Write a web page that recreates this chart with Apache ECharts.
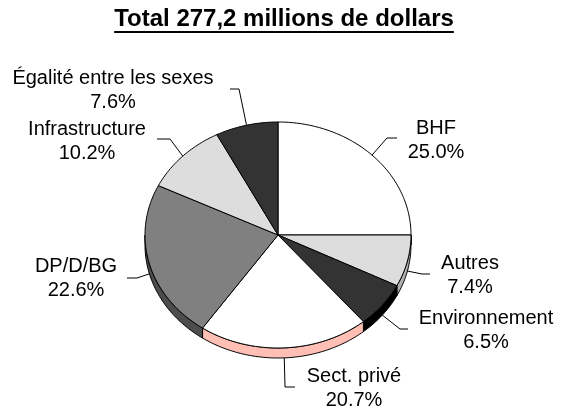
<!DOCTYPE html>
<html>
<head>
<meta charset="utf-8">
<script src="https://cdn.jsdelivr.net/npm/echarts@6/dist/echarts.min.js"></script>
<style>
html,body{margin:0;padding:0;background:#fff;}
#chart{width:564px;height:411px;}
</style>
</head>
<body>
<div id="chart"></div>
<script>
// ---- data ----
const titleText = 'Total 277,2 millions de dollars';
const categories = ['BHF', 'Autres', 'Environnement', 'Sect. privé', 'DP/D/BG', 'Infrastructure', 'Égalité entre les sexes'];
const shares = [25.0, 7.4, 6.5, 20.7, 22.6, 10.2, 7.6];
const topColors = ['#ffffff', '#dddddd', '#333333', '#ffffff', '#808080', '#dddddd', '#333333'];
const sideColors = ['#bbbbbb', '#b0b0b0', '#000000', '#ffbfb4', '#4d4d4d', '#aaaaaa', '#1a1a1a'];

// ---- layout (not data) ----
const pie = { cx: 278, cy: 235, rx: 133, ry: 113, depth: 10 };
// label layout: leader elbow, leader end, text block centre
const labelLayout = [
  { elbow: [387, 138], end: [397, 138], text: [436, 140] },
  { elbow: [422, 274], end: [430, 274], text: [470, 275] },
  { elbow: [400, 329], end: [408, 329], text: [486, 330] },
  { elbow: [285, 387], end: [295, 387], text: [354, 388] },
  { elbow: [137, 278], end: [127, 278], text: [76, 278] },
  { elbow: [170, 139], end: [157, 139], text: [87, 141] },
  { elbow: [239, 89], end: [230, 89], text: [113, 90] }
];
const FONT = '"Liberation Sans", Arial, Helvetica, sans-serif';

const total = shares.reduce((a, b) => a + b, 0);
let acc = 0;
const seriesData = shares.map((v, i) => {
  const item = [i, v, acc];
  acc += v;
  return item;
});

function pt(a, dy) {
  return [pie.cx + pie.rx * Math.cos(a), pie.cy + dy + pie.ry * Math.sin(a)];
}

function renderItem(params, api) {
  const i = api.value(0);
  const v = api.value(1);
  const c0 = api.value(2);
  const a0 = -Math.PI / 2 + c0 / total * 2 * Math.PI;
  const a1 = a0 + v / total * 2 * Math.PI;
  const children = [];
  // side band (visible lower half)
  const s0 = Math.max(a0, 0), s1 = Math.min(a1, Math.PI);
  if (s1 > s0) {
    const n = Math.max(2, Math.ceil((s1 - s0) / 0.02));
    const pts = [];
    for (let k = 0; k <= n; k++) pts.push(pt(s0 + (s1 - s0) * k / n, 0));
    for (let k = n; k >= 0; k--) pts.push(pt(s0 + (s1 - s0) * k / n, pie.depth));
    children.push({
      type: 'polygon', shape: { points: pts },
      style: { fill: sideColors[i], stroke: '#000', lineWidth: 1 }
    });
  }
  // top face
  const n2 = Math.max(2, Math.ceil((a1 - a0) / 0.02));
  const tp = [[pie.cx, pie.cy]];
  for (let k = 0; k <= n2; k++) tp.push(pt(a0 + (a1 - a0) * k / n2, 0));
  children.push({
    type: 'polygon', shape: { points: tp },
    style: { fill: topColors[i], stroke: '#000', lineWidth: 1, lineJoin: 'miter' }
  });
  // leader line
  const am = (a0 + a1) / 2;
  const anchor = pt(am, Math.sin(am) > 0 ? pie.depth : 0);
  const L = labelLayout[i];
  children.push({
    type: 'polyline', shape: { points: [anchor, L.elbow, L.end] },
    style: { stroke: '#000', lineWidth: 1, fill: null }
  });
  children.push({
    type: 'text',
    style: {
      text: categories[i] + '\n' + shares[i].toFixed(1) + '%',
      x: L.text[0], y: L.text[1],
      align: 'center', verticalAlign: 'middle',
      font: '20px ' + FONT, lineHeight: 24, fill: '#000'
    }
  });
  return { type: 'group', children: children };
}

// title width for underline
const titleFont = 'bold 24px ' + FONT;
const ctx = document.createElement('canvas').getContext('2d');
ctx.font = titleFont;
const tw = ctx.measureText(titleText).width;
const titleX = 284, titleY = 19;

const chart = echarts.init(document.getElementById('chart'), null, { renderer: 'canvas' });
chart.setOption({
  backgroundColor: '#ffffff',
  animation: false,
  graphic: [
    {
      type: 'text',
      style: { text: titleText, x: titleX, y: titleY, align: 'center', verticalAlign: 'middle', font: titleFont, fill: '#000' }
    },
    {
      type: 'line',
      shape: { x1: titleX - tw / 2, y1: 32, x2: titleX + tw / 2, y2: 32 },
      style: { stroke: '#000', lineWidth: 2 }
    }
  ],
  series: [{
    type: 'custom',
    coordinateSystem: 'none',
    renderItem: renderItem,
    data: seriesData
  }]
});
</script>
</body>
</html>
